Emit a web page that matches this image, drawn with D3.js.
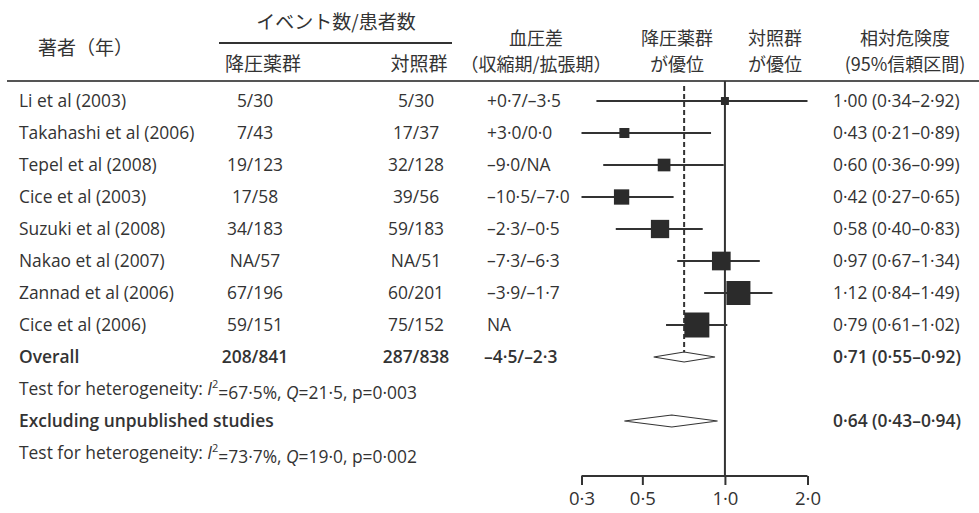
<html>
<head>
<meta charset="utf-8">
<script src="https://d3js.org/d3.v7.min.js"></script>
<style>
    body { margin: 0; background: #fff; }
    svg { font-family: "Open Sans", "Noto Sans CJK JP", sans-serif; fill: #333; }
    .jp { font-family: "Noto Sans CJK JP", sans-serif; font-size: 19px; }
    .jp2 { font-size: 18px; }
    .cell { font-size: 17.4px; }
    .bold { font-weight: 600; }
</style>
</head>
<body>
<svg id="chart" width="979" height="513"></svg>
<script>

    // study rows
    let studies = ['Li et al (2003)', 'Takahashi et al (2006)', 'Tepel et al (2008)', 'Cice et al (2003)',
                   'Suzuki et al (2008)', 'Nakao et al (2007)', 'Zannad et al (2006)', 'Cice et al (2006)'];
    let treated = ['5/30', '7/43', '19/123', '17/58', '34/183', 'NA/57', '67/196', '59/151'];
    let control = ['5/30', '17/37', '32/128', '39/56', '59/183', 'NA/51', '60/201', '75/152'];
    let bpDiff  = ['+0·7/–3·5', '+3·0/0·0', '–9·0/NA', '–10·5/–7·0', '–2·3/–0·5', '–7·3/–6·3', '–3·9/–1·7', 'NA'];
    let rr      = [1.00, 0.43, 0.60, 0.42, 0.58, 0.97, 1.12, 0.79];
    let rrLo    = [0.34, 0.21, 0.36, 0.27, 0.40, 0.67, 0.84, 0.61];
    let rrHi    = [2.92, 0.89, 0.99, 0.65, 0.83, 1.34, 1.49, 1.02];
    let weight  = [2.6, 4.1, 6.6, 9.6, 13.7, 14.3, 23.6, 25.6];

    // pooled rows
    let pooledLabel = ['Overall', 'Excluding unpublished studies'];
    let pooledTreated = ['208/841', ''];
    let pooledControl = ['287/838', ''];
    let pooledBp = ['–4·5/–2·3', ''];
    let pooledRR = [0.71, 0.64];
    let pooledLo = [0.55, 0.43];
    let pooledHi = [0.92, 0.94];
    let hetero = [['67·5%', '21·5', '0·003'], ['73·7%', '19·0', '0·002']];

    let ticks = [0.3, 0.5, 1.0, 2.0];

    let svg = d3.select('#chart');

    let x = d3.scaleLog().domain([0.3, 2.0]).range([581.5, 807.5]);
    let y = d3.scalePoint().domain(d3.range(12)).range([101, 453]);
    let side = d3.scaleSqrt().domain([0, d3.max(weight)]).range([0, 25]);
    let fmt = v => d3.format('.2f')(v).replace('.', '·');
    let clip = v => Math.max(0.3, Math.min(2.0, v));
    let ink = '#333';

    // header
    let hdr = svg.append('g').attr('class', 'jp');
    let head = (tx, ty, s, anchor) => hdr.append('text').attr('x', tx).attr('y', ty)
        .attr('text-anchor', anchor || 'middle').text(s);
    // two-line header: one text element, second line as tspan
    let head2 = (tx, l1, l2) => {
        let t = hdr.append('text').attr('class', 'jp2').attr('x', tx).attr('y', 44.5).attr('text-anchor', 'middle');
        t.append('tspan').attr('x', tx).text(l1);
        t.append('tspan').attr('x', tx).attr('dy', 26.5).text(l2);
    };
    head(336, 29, 'イベント数/患者数');
    hdr.append('line').attr('x1', 219).attr('x2', 452).attr('y1', 43).attr('y2', 43).attr('stroke', ink).attr('stroke-width', 2);
    head(38, 55, '著者（年）', 'start');
    head(263, 71, '降圧薬群');
    head(419, 71, '対照群');
    head2(536, '血圧差', '（収縮期/拡張期）');
    head2(677, '降圧薬群', 'が優位');
    head2(775, '対照群', 'が優位');
    head2(905, '相対危険度', '(95%信頼区間)');

    svg.append('line').attr('x1', 7).attr('x2', 979).attr('y1', 81).attr('y2', 81)
        .attr('stroke', '#555').attr('stroke-width', 2);

    // study text columns
    let rows = svg.selectAll('.row')
        .data(studies)
      .enter()
        .append('g')
        .attr('class', 'row cell')
        .attr('transform', (d, i) => 'translate(0,' + y(i) + ')');

    rows.append('text').attr('x', 19).attr('dy', '0.35em').text(d => d);
    rows.append('text').attr('x', 255).attr('dy', '0.35em').attr('text-anchor', 'middle').text((d, i) => treated[i]);
    rows.append('text').attr('x', 416).attr('dy', '0.35em').attr('text-anchor', 'middle').text((d, i) => control[i]);
    rows.append('text').attr('x', 487).attr('dy', '0.35em').text((d, i) => bpDiff[i]);
    rows.append('text').attr('x', 833).attr('dy', '0.35em')
        .text((d, i) => fmt(rr[i]) + ' (' + fmt(rrLo[i]) + '–' + fmt(rrHi[i]) + ')');

    // pooled rows (index 8 and 10), heterogeneity (9 and 11)
    pooledLabel.forEach((lab, k) => {
        let g = svg.append('g').attr('class', 'cell bold').attr('transform', 'translate(0,' + y(8 + 2 * k) + ')');
        g.append('text').attr('x', 19).attr('dy', '0.35em').text(lab);
        g.append('text').attr('x', 255).attr('dy', '0.35em').attr('text-anchor', 'middle').text(pooledTreated[k]);
        g.append('text').attr('x', 416).attr('dy', '0.35em').attr('text-anchor', 'middle').text(pooledControl[k]);
        g.append('text').attr('x', 484).attr('dy', '0.35em').text(pooledBp[k]);
        g.append('text').attr('x', 833).attr('dy', '0.35em')
            .text(fmt(pooledRR[k]) + ' (' + fmt(pooledLo[k]) + '–' + fmt(pooledHi[k]) + ')');

        let h = hetero[k];
        let t = svg.append('text').attr('class', 'cell').attr('x', 19).attr('y', y(9 + 2 * k)).attr('dy', '0.35em');
        t.append('tspan').text('Test for heterogeneity: ');
        t.append('tspan').attr('font-style', 'italic').text('I');
        t.append('tspan').attr('font-size', '11px').attr('dy', '-0.6em').text('2');
        t.append('tspan').attr('dy', '0.6em').text('=' + h[0] + ', ');
        t.append('tspan').attr('font-style', 'italic').text('Q');
        t.append('tspan').text('=' + h[1] + ', p=' + h[2]);
    });

    // forest plot
    let plot = svg.append('g');

    plot.append('line')
        .attr('x1', x(1)).attr('x2', x(1)).attr('y1', 81).attr('y2', 476)
        .attr('stroke', ink).attr('stroke-width', 2);

    plot.append('line')
        .attr('x1', x(pooledRR[0])).attr('x2', x(pooledRR[0])).attr('y1', 86).attr('y2', y(8) - 5)
        .attr('stroke', ink).attr('stroke-width', 2).attr('stroke-dasharray', '5,3');

    plot.selectAll('.ci')
        .data(studies)
      .enter()
        .append('line')
        .attr('class', 'ci')
        .attr('x1', (d, i) => x(clip(rrLo[i])))
        .attr('x2', (d, i) => x(clip(rrHi[i])))
        .attr('y1', (d, i) => y(i))
        .attr('y2', (d, i) => y(i))
        .attr('stroke', ink).attr('stroke-width', 2);

    plot.selectAll('.box')
        .data(studies)
      .enter()
        .append('rect')
        .attr('class', 'box')
        .attr('x', (d, i) => x(rr[i]) - side(weight[i]) / 2)
        .attr('y', (d, i) => y(i) - side(weight[i]) / 2)
        .attr('width', (d, i) => side(weight[i]))
        .attr('height', (d, i) => side(weight[i]))
        .attr('fill', '#2b2b2b');

    plot.selectAll('.diamond')
        .data(pooledRR)
      .enter()
        .append('path')
        .attr('class', 'diamond')
        .attr('d', (d, k) => {
            let cy = y(8 + 2 * k), hh = 5 + k;
            return 'M' + x(pooledLo[k]) + ',' + cy + 'L' + x(d) + ',' + (cy - hh) +
                   'L' + x(pooledHi[k]) + ',' + cy + 'L' + x(d) + ',' + (cy + hh) + 'Z';
        })
        .attr('fill', '#fff').attr('stroke', ink).attr('stroke-width', 1.2);

    // axis
    let axis = svg.append('g')
        .attr('transform', 'translate(0,476)')
        .call(d3.axisBottom(x).tickValues(ticks).tickSize(9).tickPadding(7)
            .tickFormat(d => d3.format('.1f')(d).replace('.', '·')));
    axis.select('.domain').attr('stroke', ink).attr('stroke-width', 2).attr('d', 'M' + x(0.3) + ',0H' + x(2.0));
    axis.selectAll('.tick line').attr('stroke', ink).attr('stroke-width', 2);
    axis.selectAll('.tick text').attr('fill', ink).attr('font-size', '18.5px')
        .attr('font-family', '"Open Sans", sans-serif');

</script>
</body>
</html>
